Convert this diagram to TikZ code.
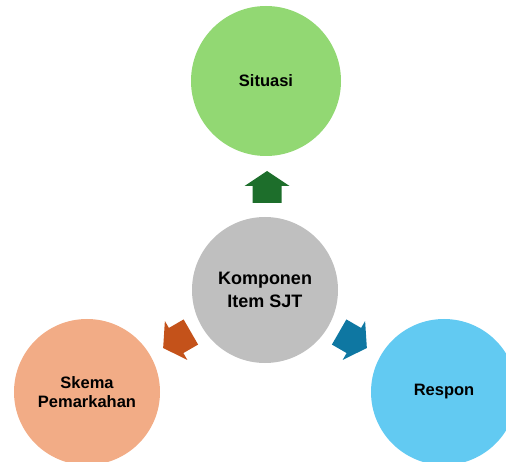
\documentclass[tikz,border=0pt]{standalone}
\usepackage{fontspec}
\setmainfont{Liberation Sans}
\definecolor{cgreen}{HTML}{92D873}
\definecolor{cgray}{HTML}{BFBFBF}
\definecolor{corange}{HTML}{F2AC86}
\definecolor{cblue}{HTML}{62CAF2}
\definecolor{agreen}{HTML}{1D6E2B}
\definecolor{aorange}{HTML}{C4521A}
\definecolor{ablue}{HTML}{0E77A2}
\begin{document}
\begin{tikzpicture}[x=1pt,y=-1pt,
  circ/.style={circle, inner sep=0pt, align=center, text=black},
  big/.style={font=\bfseries\fontsize{18}{22.5}\selectfont},
  small/.style={font=\bfseries\fontsize{16.5}{19}\selectfont},
  upshape/.pic={\fill (0,-16) -- (22.5,-1) -- (14.5,-1) -- (14.5,16) -- (-14.5,16) -- (-14.5,-1) -- (-22.5,-1) -- cycle;}
]
\useasboundingbox (0,0) rectangle (506,462);
\clip (0,0) rectangle (506,462);
\node[circ, fill=cgreen, minimum size=150pt, small, font=\bfseries\fontsize{16.5}{19}\selectfont] (sit) at (266,81) {Situasi};
\node[circ, fill=cgray, minimum size=146pt, big] (kom) at (265,290) {Komponen\\Item SJT};
\node[circ, fill=corange, minimum size=146pt, small] (skm) at (87,392) {Skema\\Pemarkahan};
\node[circ, fill=cblue, minimum size=146pt, small] (res) at (444,392) {Respon};
\pic[agreen] at (267,187) {upshape};
\pic[aorange, rotate=120] at (177,340) {upshape};
\pic[ablue, rotate=-120] at (353,340) {upshape};
\end{tikzpicture}
\end{document}
